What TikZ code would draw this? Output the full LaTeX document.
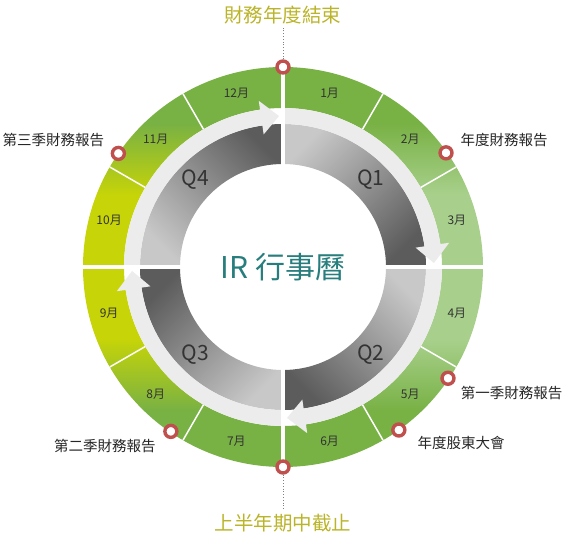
\documentclass[tikz,border=0pt]{standalone}
\usepackage{fontspec}
\setmainfont{Noto Sans CJK TC}
\usetikzlibrary{positioning}

\definecolor{gmid}{RGB}{120,177,68}
\definecolor{glight}{RGB}{168,208,140}
\definecolor{gyel}{RGB}{198,212,8}
\definecolor{eventred}{RGB}{192,80,77}
\definecolor{olivetxt}{RGB}{186,180,40}
\definecolor{irteal}{RGB}{40,125,125}
\definecolor{arrowgray}{RGB}{236,236,236}
\definecolor{qlight}{RGB}{200,200,200}
\definecolor{qdark}{RGB}{92,92,92}

% ring colours, bottom to top
\pgfdeclareverticalshading{ringright}{100bp}{color(0bp)=(gmid); color(32bp)=(gmid); color(41bp)=(glight); color(59bp)=(glight); color(68bp)=(gmid); color(100bp)=(gmid)}
\pgfdeclareverticalshading{ringleft}{100bp}{color(0bp)=(gmid); color(32bp)=(gmid); color(41bp)=(gyel); color(59bp)=(gyel); color(68bp)=(gmid); color(100bp)=(gmid)}

\begin{document}
\begin{tikzpicture}[x=1pt,y=1pt,
	month/.style={font=\fontsize{12}{12}\selectfont, text=black!80},
	event/.style={circle, draw=eventred, fill=white, line width=3.4pt, minimum size=12pt, inner sep=0pt},
	evtext/.style={font=\fontsize{14.5}{15}\selectfont, text=black!85},
	headline/.style={font=\fontsize{19.5}{20}\selectfont, text=olivetxt},
	qtext/.style={font=\fontsize{21}{21}\selectfont, text=black!80},
	leader/.style={draw=gray, dotted, line width=0.8pt}]

	\useasboundingbox (-283,-267) rectangle (282,267);

	%green ring
	\shade[shading=ringright] (-90:200) arc (-90:90:200) -- (90:159) arc (90:-90:159) -- cycle;
	\shade[shading=ringleft] (90:200) arc (90:270:200) -- (270:159) arc (270:90:159) -- cycle;
	\foreach \a in {30,60,120,150,210,240,300,330}
		\draw[white, line width=1.5pt] (\a:159) -- (\a:200);

	%quarters
	\foreach \s/\ang in {90/45, 0/-45, -90/-135, -180/135}
		\shade[top color=qlight, bottom color=qdark, shading angle=\ang]
			(\s:103) arc (\s:\s-90:103) -- (\s-90:143) arc (\s-90:\s:143) -- cycle;

	%arrows
	\foreach \s in {90, 0, -90, -180} {
		\pgfmathsetmacro{\e}{\s-81.7}
		\pgfmathsetmacro{\t}{\s-88.5}
		\fill[arrowgray] (\s:159) arc (\s:\e:159) -- (\e:168) -- (\t:151) -- (\e:134)
			-- (\e:143) arc (\e:\s:143) -- cycle;
	}

	%quarter borders
	\draw[white, line width=4.5pt] (0,200) -- (0,-200);
	\draw[white, line width=4.5pt] (-200,0) -- (200,0);

	%months
	\foreach \m in {1,...,12}
		\node[month] (mon\m) at ({105-30*\m}:180) {{\m}月};

	%quarter names
	\node[qtext] (q1) at (45:124) {Q1};
	\node[qtext] (q2) at (-45:124) {Q2};
	\node[qtext] (q3) at (-135:124) {Q3};
	\node[qtext] (q4) at (135:124) {Q4};
	\node[font=\fontsize{30}{30}\selectfont, text=irteal] (ir) at (0,0) {IR 行事曆};

	%events
	\node[event] (ev1) at (90:200) {};
	\node[event] (ev2) at (35:199) {};
	\node[event] (ev3) at (-34:199) {};
	\node[event] (ev4) at (-54.6:200) {};
	\node[event] (ev5) at (-90:200) {};
	\node[event] (ev6) at (235.7:199) {};
	\node[event] (ev7) at (145.4:200) {};

	%event texts
	\node[headline] (fyend) at (0,252) {財務年度結束};
	\node[headline] (halfyr) at (0,-256) {上半年期中截止};
	\node[evtext] (ev2t) at (221,127) {年度財務報告};
	\node[evtext] (ev3t) at (228.5,-126) {第一季財務報告};
	\node[evtext] (ev4t) at (178,-176) {年度股東大會};
	\node[evtext] (ev6t) at (-178,-179) {第二季財務報告};
	\node[evtext] (ev7t) at (-229.5,127) {第三季財務報告};

	%leaders
	\draw[leader] (ev1) -- (fyend);
	\draw[leader] (ev5) -- (halfyr);
\end{tikzpicture}
\end{document}
